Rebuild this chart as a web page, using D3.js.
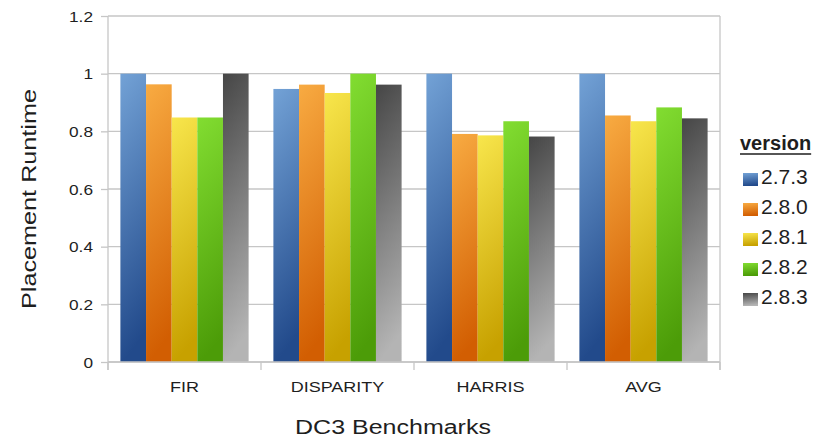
<!DOCTYPE html>
<html>
<head>
<meta charset="utf-8">
<script src="https://cdn.jsdelivr.net/npm/d3@7"></script>
<style>
  html, body { margin: 0; padding: 0; background: #fff; }
  svg text { font-family: "Liberation Sans", Arial, sans-serif; fill: #1e1e1e; }
</style>
</head>
<body>
<svg id="chart" width="823" height="440"></svg>
<script>
// Benchmarks and tool versions
const benchmarks = ["FIR", "DISPARITY", "HARRIS", "AVG"];
const versions = ["2.7.3", "2.8.0", "2.8.1", "2.8.2", "2.8.3"];

// Normalised placement runtime per version, one value per benchmark
const v273 = [1.000, 0.947, 1.000, 1.000];
const v280 = [0.963, 0.962, 0.791, 0.855];
const v281 = [0.848, 0.933, 0.786, 0.835];
const v282 = [0.848, 1.000, 0.835, 0.883];
const v283 = [1.000, 0.962, 0.782, 0.845];
const seriesValues = [v273, v280, v281, v282, v283];

const yTicks = [0, 0.2, 0.4, 0.6, 0.8, 1, 1.2];
const yTickLabels = ["0", "0.2", "0.4", "0.6", "0.8", "1", "1.2"];

// Gradient stops (top, bottom) for each version
const gradTop = ["#73a2d6", "#f8ab42", "#f8e64c", "#82dd31", "#464646"];
const gradBottom = ["#224a8b", "#d25e02", "#c7a100", "#4c9c08", "#b4b4b4"];

const svg = d3.select("#chart");
const plotLeft = 108, plotRight = 720, plotTop = 16, plotBottom = 362;

// Stretch text horizontally by a factor
function stretch(sel, k) {
  sel.each(function () {
    const len = this.getComputedTextLength();
    d3.select(this).attr("textLength", len * k).attr("lengthAdjust", "spacingAndGlyphs");
  });
}

const defs = svg.append("defs");
versions.forEach((v, i) => {
  const g = defs.append("linearGradient")
    .attr("id", "grad" + i)
    .attr("x1", 0).attr("y1", 0).attr("x2", 0.12).attr("y2", 1);
  g.append("stop").attr("offset", "0%").attr("stop-color", gradTop[i]);
  g.append("stop").attr("offset", "100%").attr("stop-color", gradBottom[i]);
});

const y = d3.scaleLinear().domain([0, 1.2]).range([plotBottom, plotTop]);
const x0 = d3.scaleBand().domain(benchmarks).range([plotLeft, plotRight])
  .paddingInner(0.162).paddingOuter(0.081);
const x1 = d3.scaleBand().domain(versions).range([0, x0.bandwidth()]);

// Horizontal grid lines
svg.append("g").selectAll("line").data(yTicks).join("line")
  .attr("x1", plotLeft).attr("x2", plotRight)
  .attr("y1", d => y(d)).attr("y2", d => y(d))
  .attr("stroke", "#c6c6c6").attr("stroke-width", 1.3);

// Right frame edge
svg.append("line").attr("x1", plotRight).attr("x2", plotRight)
  .attr("y1", y(1.2)).attr("y2", plotBottom + 8)
  .attr("stroke", "#c6c6c6").attr("stroke-width", 1.3);

// Bars
const groups = svg.append("g").selectAll("g").data(benchmarks).join("g")
  .attr("transform", d => `translate(${x0(d)},0)`);
groups.selectAll("rect")
  .data((b, bi) => versions.map((v, vi) => ({ v, vi, val: seriesValues[vi][bi] })))
  .join("rect")
  .attr("x", d => x1(d.v))
  .attr("width", x1.bandwidth())
  .attr("y", d => y(d.val))
  .attr("height", d => y(0) - y(d.val))
  .attr("fill", d => `url(#grad${d.vi})`);

// Y axis
const yAxis = svg.append("g").attr("transform", `translate(${plotLeft},0)`)
  .call(d3.axisLeft(y).tickValues(yTicks).tickFormat((d, i) => yTickLabels[i])
    .tickSize(7).tickPadding(8));
yAxis.select(".domain").attr("stroke", "#c6c6c6").attr("stroke-width", 1.3)
  .attr("d", `M0,${y(1.2)}V${plotBottom + 8}`);
yAxis.selectAll(".tick line").attr("stroke", "#c6c6c6").attr("stroke-width", 1.3);
yAxis.selectAll(".tick text").attr("font-size", 15).attr("fill", "#1e1e1e")
  .attr("font-family", null)
  .attr("dy", "0.34em").call(stretch, 1.15);

// X axis (category boundaries as ticks)
svg.append("line").attr("x1", plotLeft).attr("x2", plotRight)
  .attr("y1", plotBottom).attr("y2", plotBottom)
  .attr("stroke", "#c6c6c6").attr("stroke-width", 1.3);
const bounds = [plotLeft].concat(benchmarks.map(b => x0(b) + x0.bandwidth() + x0.step() * x0.paddingInner() / 2));
svg.append("g").selectAll("line").data(bounds).join("line")
  .attr("x1", d => d).attr("x2", d => d).attr("y1", plotBottom).attr("y2", plotBottom + 8)
  .attr("stroke", "#c6c6c6").attr("stroke-width", 1.3);
svg.append("g").selectAll("text").data(benchmarks).join("text")
  .attr("x", d => x0(d) + x0.bandwidth() / 2)
  .attr("y", 392)
  .attr("text-anchor", "middle")
  .attr("font-size", 15)
  .text(d => d)
  .call(stretch, 1.2);

// Axis titles
svg.append("text")
  .attr("transform", "translate(36,199) rotate(-90)")
  .attr("text-anchor", "middle")
  .attr("font-size", 21)
  .text("Placement Runtime")
  .call(stretch, 1.2);
svg.append("text")
  .attr("x", 393).attr("y", 434)
  .attr("text-anchor", "middle")
  .attr("font-size", 20)
  .text("DC3 Benchmarks")
  .call(stretch, 1.25);

// Legend
const lg = svg.append("g");
const title = lg.append("text").attr("x", 740).attr("y", 150)
  .attr("font-size", 20).attr("font-weight", "bold").text("version");
const tw = title.node().getComputedTextLength();
lg.append("line").attr("x1", 740).attr("x2", 740 + tw).attr("y1", 154).attr("y2", 154)
  .attr("stroke", "#1e1e1e").attr("stroke-width", 1.6);
const items = lg.selectAll("g.item").data(versions).join("g").attr("class", "item")
  .attr("transform", (d, i) => `translate(743,${173 + i * 30})`);
items.append("rect").attr("width", 15).attr("height", 13)
  .attr("fill", (d, i) => `url(#grad${i})`);
items.append("text").attr("x", 18).attr("y", 11).attr("font-size", 21).text(d => d);
</script>
</body>
</html>
